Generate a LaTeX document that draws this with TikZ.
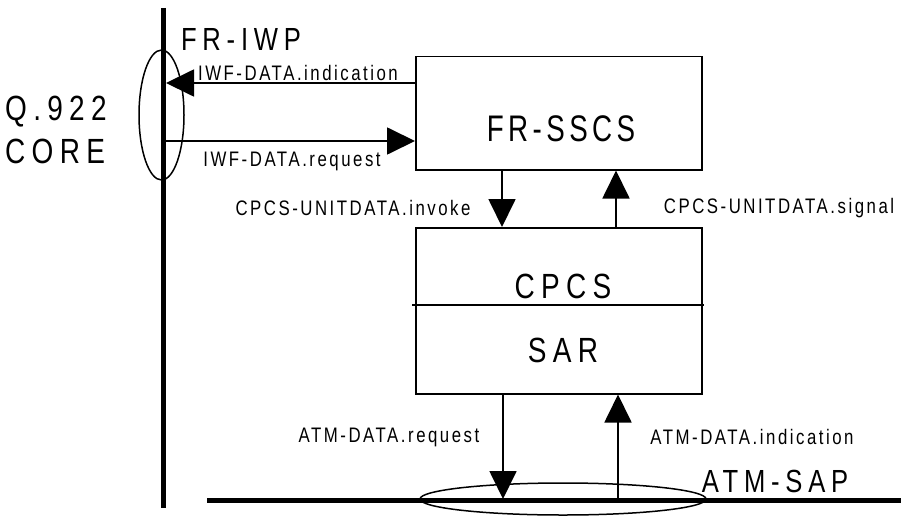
\documentclass[tikz,border=0pt]{standalone}
\usepackage{fontspec}
\setmainfont{Liberation Sans}
\newfontfamily\smallfnt[FakeStretch=0.8,LetterSpace=12]{Liberation Sans}
\newfontfamily\bigfnt[FakeStretch=0.8,LetterSpace=18]{Liberation Sans}
\newfontfamily\tallfnt[FakeStretch=0.75,LetterSpace=12]{Liberation Sans}
\usetikzlibrary{arrows.meta}
\begin{document}
\begin{tikzpicture}[x=1pt,y=-1pt,
  lbl/.style={font=\smallfnt\fontsize{21}{21}\selectfont, inner sep=0pt},
  big/.style={font=\bigfnt\fontsize{32}{32}\selectfont, inner sep=0pt},
  bigger/.style={font=\bigfnt\fontsize{35}{35}\selectfont, inner sep=0pt},
  tall/.style={font=\tallfnt\fontsize{37}{37}\selectfont, inner sep=0pt},
  box/.style={draw, line width=1.5pt, inner sep=0pt, anchor=north west},
  flow/.style={line width=1.8pt, -{Triangle[length=28pt,width=27pt]}},
  bus/.style={line width=5pt},
  thin/.style={line width=1.5pt}
]
\path[use as bounding box] (0,0) rectangle (901,519);

% boxes
\node[box, minimum width=286pt, minimum height=113pt] (sscs) at (415,56) {};
\node[box, minimum width=286pt, minimum height=166pt] (cpcsbox) at (415,227) {};
\draw[thin] (412,305) -- (704,305);

% interface lines
\coordinate (vtop) at (163,8);
\coordinate (vbot) at (163,508);
\draw[bus] (vtop) -- (vbot);
\coordinate (hl) at (207,500);
\coordinate (hr) at (901,500);
\draw[bus] (hl) -- (hr);
\draw[thin] (161.5,115) ellipse [x radius=22.5, y radius=65];
\draw[thin] (563,499) ellipse [x radius=143, y radius=16];

% big texts
\node[big] (friwp) at (241,39) {FR-IWP};
\node[bigger, anchor=west] (q922) at (5,112) {Q.922};
\node[bigger, anchor=west] (core) at (5,151) {CORE};
\node[tall] (frsscs) at (561,129) {FR-SSCS};
\node[bigger] (cpcs) at (563,286) {CPCS};
\node[bigger] (sar) at (563,350) {SAR};
\node[big] (atmsap) at (775,481) {ATM-SAP};

% arrows
\draw[flow] (sscs.west |- 0,83) -- (166,83);
\draw[flow] (163,141) -- (sscs.west |- 0,141);
\draw[flow] (sscs.south -| 502,0) -- (cpcsbox.north -| 502,0);
\draw[flow] (cpcsbox.north -| 616,0) -- (sscs.south -| 616,0);
\draw[flow] (cpcsbox.south -| 503,0) -- (503,499);
\draw[flow] (618,500) -- (cpcsbox.south -| 618,0);

% labels
\node[lbl] (l1) at (298,73) {IWF-DATA.indication};
\node[lbl] (l2) at (292,161) {IWF-DATA.request};
\node[lbl] (l3) at (353,208) {CPCS-UNITDATA.invoke};
\node[lbl] (l4) at (779,208) {CPCS-UNITDATA.signal};
\node[lbl] (l5) at (389,437) {ATM-DATA.request};
\node[lbl] (l6) at (752,437) {ATM-DATA.indication};
\end{tikzpicture}
\end{document}
